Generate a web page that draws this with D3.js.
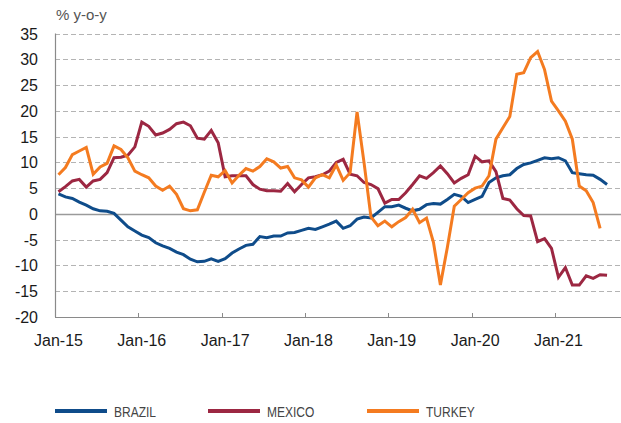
<!DOCTYPE html>
<html>
<head>
<meta charset="utf-8">
<script src="https://cdn.jsdelivr.net/npm/d3@7"></script>
<style>
  body { margin: 0; background: #fff; }
  svg { display: block; font-family: "Liberation Sans", Arial, sans-serif; }
</style>
</head>
<body>
<div id="chart"></div>
<script>
// monthly data, Jan-15 .. Aug-21
var brazil = [3.9, 3.3, 3.0, 2.3, 1.7, 1.0, 0.6, 0.5, 0.1, -1.2,
  -2.5, -3.3, -4.1, -4.6, -5.6, -6.2, -6.7, -7.4, -7.9, -8.8,
  -9.3, -9.2, -8.7, -9.2, -8.7, -7.6, -6.8, -6.1, -5.9, -4.4,
  -4.6, -4.3, -4.3, -3.7, -3.6, -3.2, -2.8, -3.0, -2.5, -2.0,
  -1.4, -2.8, -2.3, -1.0, -0.6, -0.8, 0.3, 1.4, 1.4, 1.7,
  1.1, 0.6, 0.9, 1.8, 2.0, 1.9, 2.8, 3.8, 3.4, 2.2,
  2.8, 3.4, 6.1, 7.0, 7.4, 7.6, 8.8, 9.6, 9.9, 10.4,
  10.9, 10.7, 10.9, 10.3, 8.0, 7.8, 7.6, 7.5, 6.7, 5.7];

var mexico = [4.3, 5.3, 6.4, 6.7, 5.2, 6.4, 6.7, 8.0, 10.9, 11.0,
  11.4, 13.0, 17.8, 17.0, 15.3, 15.7, 16.4, 17.5, 17.8, 17.1,
  14.7, 14.5, 16.2, 13.8, 7.2, 7.4, 7.4, 7.4, 5.7, 4.8,
  4.5, 4.5, 4.4, 5.9, 4.3, 5.7, 7.0, 7.2, 7.6, 8.3,
  10.0, 10.6, 7.7, 7.4, 6.1, 5.7, 4.9, 2.1, 2.8, 2.8,
  4.1, 5.7, 7.4, 6.9, 8.0, 9.3, 7.8, 6.0, 6.9, 7.6,
  11.2, 10.1, 10.3, 8.2, 3.0, 2.7, 1.0, -0.3, -0.4, -5.4,
  -4.8, -6.7, -12.3, -10.4, -13.8, -13.8, -12.0, -12.5, -11.8, -11.9];

var turkey = [7.6, 9.0, 11.5, 12.2, 12.9, 7.7, 9.1, 9.8, 13.2, 12.5,
  10.9, 8.3, 7.6, 7.0, 5.4, 4.6, 5.4, 3.8, 1.0, 0.6,
  0.8, 4.2, 7.5, 7.2, 8.4, 6.0, 7.5, 8.8, 8.3, 9.2,
  10.7, 10.1, 8.9, 9.2, 7.0, 6.6, 5.2, 7.0, 7.6, 7.0,
  9.5, 6.5, 8.0, 19.8, 10.0, -0.6, -2.3, -1.4, -2.5, -1.5,
  -0.7, 0.9, -1.7, -0.8, -5.5, -13.8, -6.5, 1.5, 2.8, 4.1,
  5.0, 5.4, 7.4, 14.5, 16.7, 18.9, 27.1, 27.4, 30.3, 31.5,
  28.0, 21.9, 20.0, 18.0, 14.5, 5.4, 4.5, 2.2, -2.8];

var yTicks = [-20, -15, -10, -5, 0, 5, 10, 15, 20, 25, 30, 35];
var yearLabels = ["Jan-15", "Jan-16", "Jan-17", "Jan-18", "Jan-19", "Jan-20", "Jan-21"];

var series = [
  { name: "BRAZIL", values: brazil, color: "#0f4c8a" },
  { name: "MEXICO", values: mexico, color: "#9c2742" },
  { name: "TURKEY", values: turkey, color: "#f47b20" }
];

var width = 621, height = 423;
var margin = { top: 33.5, left: 55, bottom: 317 };

// one band per month, Jan-15 .. Dec-21 (axis runs off the right edge)
var months = d3.range(84);
var x = d3.scaleBand()
  .domain(months)
  .range([margin.left, margin.left + 84 * 6.944]);

var y = d3.scaleLinear()
  .domain([-20, 35])
  .range([margin.bottom, margin.top]);

var svg = d3.select("#chart")
  .append("svg")
  .attr("width", width)
  .attr("height", height);

// gridlines
svg.append("g")
  .selectAll("line")
  .data(yTicks.filter(function(d) { return d !== -20; }))
  .enter()
  .append("line")
    .attr("x1", margin.left)
    .attr("x2", width)
    .attr("y1", function(d) { return Math.round(y(d)) + 0.5; })
    .attr("y2", function(d) { return Math.round(y(d)) + 0.5; })
    .attr("stroke", function(d) { return d === 0 ? "#9a9a9a" : "#b4b4b4"; })
    .attr("stroke-width", function(d) { return d === 0 ? 1.3 : 1; })
    .attr("stroke-dasharray", function(d) { return d === 0 ? null : "5,3"; });

// y tick labels
svg.append("g")
  .selectAll("text")
  .data(yTicks)
  .enter()
  .append("text")
    .attr("x", 38)
    .attr("y", function(d) { return y(d) + 6; })
    .attr("text-anchor", "end")
    .style("font-size", "16px")
    .style("fill", "#1a1a1a")
    .text(function(d) { return d; });

// axis lines
svg.append("line")
  .attr("x1", margin.left + 0.5).attr("x2", margin.left + 0.5)
  .attr("y1", y(35)).attr("y2", margin.bottom)
  .attr("stroke", "#8a8a8a").attr("stroke-width", 1.2);
svg.append("line")
  .attr("x1", margin.left).attr("x2", width)
  .attr("y1", margin.bottom + 0.5).attr("y2", margin.bottom + 0.5)
  .attr("stroke", "#8a8a8a").attr("stroke-width", 1.2);

// x ticks and labels, every January
var janIdx = yearLabels.map(function(d, i) { return i * 12; });
svg.append("g")
  .selectAll("line")
  .data(janIdx)
  .enter()
  .append("line")
    .attr("x1", function(d) { return Math.round(x(d)) + 0.5; })
    .attr("x2", function(d) { return Math.round(x(d)) + 0.5; })
    .attr("y1", margin.bottom - 4)
    .attr("y2", margin.bottom)
    .attr("stroke", "#8a8a8a");

svg.append("g")
  .selectAll("text")
  .data(yearLabels)
  .enter()
  .append("text")
    .attr("x", function(d, i) { return x(janIdx[i]) + x.bandwidth() / 2; })
    .attr("y", 346)
    .attr("text-anchor", "middle")
    .style("font-size", "16px")
    .style("fill", "#1a1a1a")
    .text(function(d) { return d; });

// unit label
svg.append("text")
  .attr("x", 56)
  .attr("y", 20)
  .style("font-size", "15px")
  .style("fill", "#555")
  .text("% y-o-y");

// lines
var line = d3.line()
  .x(function(d, i) { return x(i) + x.bandwidth() / 2; })
  .y(function(d) { return y(d); });

svg.append("g")
  .selectAll("path")
  .data(series)
  .enter()
  .append("path")
    .attr("d", function(d) { return line(d.values); })
    .attr("fill", "none")
    .attr("stroke", function(d) { return d.color; })
    .attr("stroke-width", 3)
    .attr("stroke-linejoin", "miter");

// legend (narrow type: squeeze regular sans horizontally)
var legendX = [55, 208, 367];
var legend = svg.append("g");
legend.selectAll("line")
  .data(series)
  .enter()
  .append("line")
    .attr("x1", function(d, i) { return legendX[i]; })
    .attr("x2", function(d, i) { return legendX[i] + 52; })
    .attr("y1", 411)
    .attr("y2", 411)
    .attr("stroke", function(d) { return d.color; })
    .attr("stroke-width", 4);
legend.selectAll("text")
  .data(series)
  .enter()
  .append("text")
    .attr("transform", function(d, i) {
      return "translate(" + (legendX[i] + 59) + ",416.5) scale(0.8,1)";
    })
    .style("font-size", "15px")
    .style("fill", "#444")
    .text(function(d) { return d.name; });
</script>
</body>
</html>
